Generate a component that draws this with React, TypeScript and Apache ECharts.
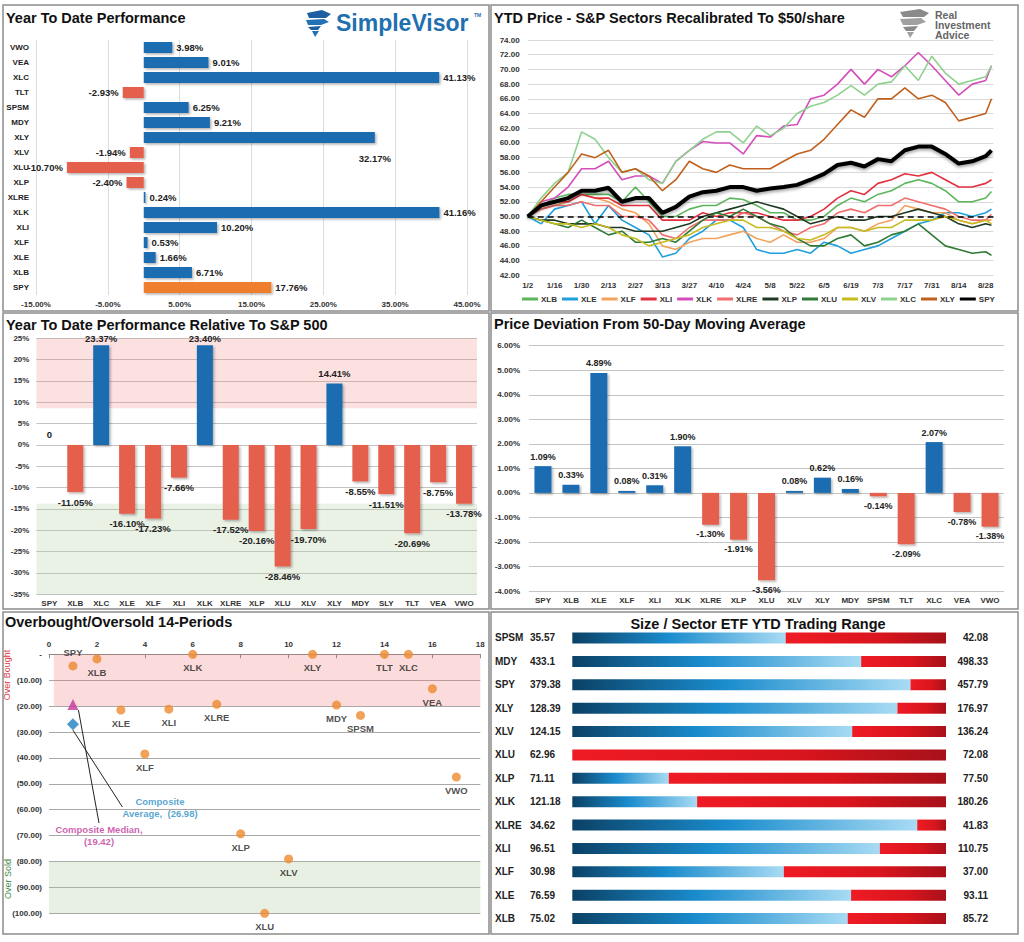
import React, { useEffect, useRef } from 'react';
import * as echarts from 'echarts';

const FONT = 'Arial, "Liberation Sans", Helvetica, sans-serif';

// ---------- Panel 1: Year To Date Performance (listed bottom to top)
const ytdTickers = ['SPY', 'XLB', 'XLE', 'XLF', 'XLI', 'XLK', 'XLRE', 'XLP', 'XLU', 'XLV', 'XLY', 'MDY', 'SPSM', 'TLT', 'XLC', 'VEA', 'VWO'];
const ytdValues = [17.76, 6.71, 1.66, 0.53, 10.2, 41.16, 0.24, -2.4, -10.7, -1.94, 32.17, 9.21, 6.25, -2.93, 41.13, 9.01, 3.98];

// ---------- Panel 2: YTD price recalibrated to $50 (days after 1/2)
const priceDays = [0, 7, 14, 21, 28, 35, 42, 49, 56, 63, 70, 77, 84, 91, 98, 105, 112, 119, 126, 133, 140, 147, 154, 161, 168, 175, 182, 189, 196, 203, 210, 217, 224, 231, 238, 241];
const priceTickLabels = ['1/2', '1/16', '1/30', '2/13', '2/27', '3/13', '3/27', '4/10', '4/24', '5/8', '5/22', '6/5', '6/19', '7/3', '7/17', '7/31', '8/14', '8/28'];
const xlbPrice = [50, 51.5, 52.5, 53, 53, 53, 53, 52, 54, 52, 50, 50, 51, 51.5, 51.5, 52.5, 52.3, 51.5, 50.5, 50.5, 49.5, 49.5, 50, 51.5, 52.5, 52, 53, 53.5, 54.5, 55, 54.5, 53.5, 52, 52, 52.5, 53.4];
const xlePrice = [50, 49, 51, 51.5, 52, 49, 51.5, 49.5, 48.5, 47.5, 44.5, 45, 47, 48, 49.5, 49.5, 48.5, 45.5, 45, 45, 45.5, 45, 46.5, 46, 45, 45.5, 46, 47, 48, 49, 49.5, 50.5, 50.5, 50, 50.5, 51];
const xlfPrice = [50, 51, 51.5, 52, 53, 52.5, 52, 51, 50.5, 49, 46, 45.5, 46.5, 47, 47, 47.5, 48, 47, 46.5, 47.5, 46.5, 46.5, 47, 48.5, 48.5, 48, 49, 49.5, 51.5, 51, 50.5, 50.5, 49.5, 49, 49.5, 49.5];
const xliPrice = [50, 51.5, 52, 52, 53, 52.5, 52.5, 51.5, 51.5, 51.5, 49.5, 49.5, 49.5, 50.5, 50, 50.5, 50.5, 50.5, 50, 49.5, 49.5, 50, 51, 52.5, 53.5, 53, 54.5, 55, 55.8, 55.5, 56, 55, 54, 54, 54.5, 55];
const xlkPrice = [50, 52, 52.5, 54, 56.5, 56.5, 57.5, 55, 55.5, 55.5, 54.5, 57.5, 59, 60.2, 60, 60, 58.5, 61, 60.8, 62.3, 62.5, 66, 66.5, 68, 70, 68, 70, 69, 70.5, 72.3, 70.5, 68.5, 66.5, 68, 68.5, 70.5];
const xlrePrice = [50, 51, 51.5, 51.5, 52, 51.5, 51.5, 50, 50, 49.5, 47.5, 47, 48.5, 49.5, 49.5, 49.5, 50.5, 50, 49, 48, 47.5, 48.5, 49, 50.5, 51, 50.5, 51.5, 51.5, 52.5, 52, 51.5, 51, 50, 49.5, 49.5, 50.3];
const xlpPrice = [50, 49.5, 49.5, 49, 49, 49, 48.5, 48.5, 48, 48, 48, 48.5, 49, 50, 50.5, 51, 51.5, 52, 51.5, 51, 50, 49, 49.5, 50, 49.5, 49.5, 50, 50, 50.5, 51, 50.5, 50, 49, 48.5, 49, 48.8];
const xluPrice = [50, 49.5, 49, 48.5, 49.5, 48.5, 47.5, 48, 46.5, 46.5, 47, 46.5, 48, 49.5, 50.5, 50, 51, 50, 49, 48.5, 47, 46, 46, 47, 47.5, 46, 46.5, 47.5, 48, 49, 47.5, 46, 45.5, 45, 45.2, 44.7];
const xlvPrice = [50, 49.5, 49, 49, 48.5, 49, 48.5, 47.5, 47, 46, 46.5, 47, 47.5, 48.5, 49, 49.5, 49.5, 48.5, 48.5, 48, 47, 46.8, 47.5, 48.5, 48.5, 48, 48.5, 48.5, 49.5, 49.5, 49.5, 50, 49.5, 49, 49.5, 49];
const xlcPrice = [50, 52.5, 54.5, 56, 61.5, 60.5, 58, 56, 56.5, 55, 54.5, 57.5, 59, 60.5, 61.5, 61.5, 60, 62.3, 61, 62, 64, 65, 65.5, 66.5, 67.8, 66.5, 68, 68.3, 70.5, 68.5, 71.8, 69.5, 68, 68.5, 69, 70.5];
const xlyPrice = [50, 52, 54, 56, 58.5, 58, 59, 56, 56.5, 55.5, 53.5, 55, 57.5, 56.5, 56, 57, 56.5, 56.5, 56.5, 57.5, 58.5, 59, 60.5, 62.5, 64.5, 63.5, 66, 66, 67.5, 66, 66.5, 65.5, 63, 63.5, 64, 66];
const spyPrice = [50, 51.5, 52, 52.5, 53.5, 53.5, 53.9, 52, 52.5, 52.5, 50.5, 51.3, 52.7, 53.3, 53.5, 54, 54, 53.5, 53.8, 54, 54.3, 55, 55.8, 57, 57.3, 56.8, 57.8, 57.5, 59, 59.5, 59.5, 58.5, 57.2, 57.5, 58.2, 59];
const priceBase = 50;

// ---------- Panel 3: YTD performance relative to S&P 500
const relTickers = ['SPY', 'XLB', 'XLC', 'XLE', 'XLF', 'XLI', 'XLK', 'XLRE', 'XLP', 'XLU', 'XLV', 'XLY', 'MDY', 'SLY', 'TLT', 'VEA', 'VWO'];
const relValues = [0, -11.05, 23.37, -16.1, -17.23, -7.66, 23.4, -17.52, -20.16, -28.46, -19.7, 14.41, -8.55, -11.51, -20.69, -8.75, -13.78];
const relOverboughtBand = [8.6, 25];
const relOversoldBand = [-35, -13.8];

// ---------- Panel 4: Price deviation from 50-day moving average
const devTickers = ['SPY', 'XLB', 'XLE', 'XLF', 'XLI', 'XLK', 'XLRE', 'XLP', 'XLU', 'XLV', 'XLY', 'MDY', 'SPSM', 'TLT', 'XLC', 'VEA', 'VWO'];
const devValues = [1.09, 0.33, 4.89, 0.08, 0.31, 1.9, -1.3, -1.91, -3.56, 0.08, 0.62, 0.16, -0.14, -2.09, 2.07, -0.78, -1.38];

// ---------- Panel 5: Overbought / Oversold 14 periods
const obTickers = ['SPY', 'XLB', 'XLE', 'XLF', 'XLI', 'XLK', 'XLRE', 'XLP', 'XLU', 'XLV', 'XLY', 'MDY', 'SPSM', 'TLT', 'XLC', 'VEA', 'VWO'];
const obX = [1, 2, 3, 4, 5, 6, 7, 8, 9, 10, 11, 12, 13, 14, 15, 16, 17];
const obValues = [-4.5, -1.8, -21.5, -38.5, -21.2, 0, -19.3, -69.3, -100, -79, 0, -19.6, -23.6, 0, 0, -13.3, -47.4];
const compositeMedian = -19.42;
const compositeAverage = -26.98;
const compositeX = 1;

// ---------- Panel 6: Size / Sector ETF YTD trading range (top to bottom)
const rangeTickers = ['SPSM', 'MDY', 'SPY', 'XLY', 'XLV', 'XLU', 'XLP', 'XLK', 'XLRE', 'XLI', 'XLF', 'XLE', 'XLB'];
const rangeLowLabels = ['35.57', '433.1', '379.38', '128.39', '124.15', '62.96', '71.11', '121.18', '34.62', '96.51', '30.98', '76.59', '75.02'];
const rangeHighLabels = ['42.08', '498.33', '457.79', '176.97', '136.24', '72.08', '77.50', '180.26', '41.83', '110.75', '37.00', '93.11', '85.72'];
const rangePositionPct = [57.1, 77.3, 90.5, 87.0, 74.9, 0, 25.8, 33.4, 92.3, 82.3, 56.6, 74.6, 73.7];

const BLUE = '#1b6cb2';
const RED = '#e4604d';
const ORANGE = '#ef7f2f';

const lab = { fontFamily: FONT, fontWeight: 'bold', fontSize: 8, color: '#333' };
const barShadow = { shadowColor: 'rgba(0,0,0,0.3)', shadowBlur: 2, shadowOffsetX: 1.5, shadowOffsetY: 1.5 };

function buildOption(): any {
  const priceSeries = [
    { name: 'XLB', color: '#5db65d', data: xlbPrice },
    { name: 'XLE', color: '#1f9fdc', data: xlePrice },
    { name: 'XLF', color: '#f3a25e', data: xlfPrice },
    { name: 'XLI', color: '#e3303f', data: xliPrice },
    { name: 'XLK', color: '#d44dbb', data: xlkPrice },
    { name: 'XLRE', color: '#f26d6d', data: xlrePrice },
    { name: 'XLP', color: '#1f3a22', data: xlpPrice },
    { name: 'XLU', color: '#2f7a35', data: xluPrice },
    { name: 'XLV', color: '#c6bb1f', data: xlvPrice },
    { name: 'XLC', color: '#8fd18f', data: xlcPrice },
    { name: 'XLY', color: '#c0601c', data: xlyPrice },
    { name: 'SPY', color: '#000000', data: spyPrice },
  ];

  const titleText = (text: string, x: number, y: number, align = 'left') => ({
    type: 'text', x, y, silent: true, z: 50,
    style: { text, fontFamily: FONT, fontSize: 14.5, fontWeight: 'bold', fill: '#111', textAlign: align, textVerticalAlign: 'middle' },
  });
  const border = (x: number, y: number, w: number, h: number) => ({
    type: 'rect', silent: true, z: 60, shape: { x, y, width: w, height: h },
    style: { fill: 'none', stroke: '#8c8c8c', lineWidth: 1.5 },
  });

  const blueGrad = new echarts.graphic.LinearGradient(0, 0, 1, 0, [
    { offset: 0, color: '#0b4166' },
    { offset: 0.45, color: '#1a8ccd' },
    { offset: 1, color: '#a8dbf4' },
  ]);
  const redGrad = new echarts.graphic.LinearGradient(0, 0, 1, 0, [
    { offset: 0, color: '#ee1b24' },
    { offset: 0.6, color: '#d9151d' },
    { offset: 1, color: '#a8111a' },
  ]);

  return {
    animation: false,
    backgroundColor: '#ffffff',
    textStyle: { fontFamily: FONT },
    grid: [
      { left: 36, top: 40, width: 431, height: 255 },
      { left: 527.7, top: 40, width: 465.7, height: 235.3 },
      { left: 36.4, top: 338.3, width: 440.6, height: 256 },
      { left: 529, top: 345.7, width: 475, height: 245.3 },
      { left: 49, top: 654.3, width: 431.3, height: 259 },
      { left: 572.3, top: 626.3, width: 373.7, height: 304 },
    ],
    legend: {
      data: priceSeries.map((s) => s.name),
      left: 522, top: 295, padding: 0, width: 498,
      itemWidth: 16, itemHeight: 3, itemGap: 5, icon: 'rect',
      textStyle: { fontFamily: FONT, fontSize: 8, fontWeight: 'bold', color: '#333', padding: [0, 0, 0, -2] },
    },
    xAxis: [
      {
        gridIndex: 0, type: 'value', min: -15, max: 45, interval: 10,
        axisLabel: { ...lab, margin: 5, formatter: (v: number) => v.toFixed(2) + '%' },
        splitLine: { show: true, lineStyle: { color: '#dcdcdc' } },
        axisLine: { show: false }, axisTick: { show: false },
      },
      {
        gridIndex: 1, type: 'value', min: 0, max: 242, interval: 14,
        axisLabel: { ...lab, margin: 6, showMaxLabel: false, formatter: (v: number) => (v % 14 === 0 ? priceTickLabels[v / 14] ?? '' : '') },
        splitLine: { show: false }, axisLine: { show: false }, axisTick: { show: false },
      },
      {
        gridIndex: 2, type: 'category', data: relTickers,
        axisLine: { show: false, onZero: false }, axisTick: { show: false },
        axisLabel: { ...lab, margin: 5, interval: 0 },
      },
      {
        gridIndex: 3, type: 'category', data: devTickers,
        axisLine: { show: false, onZero: false }, axisTick: { show: false },
        axisLabel: { ...lab, margin: 5, interval: 0 },
      },
      {
        gridIndex: 4, type: 'value', position: 'top', min: 0, max: 18, interval: 2,
        axisLine: { show: true, onZero: false, lineStyle: { color: '#8a8a8a' } },
        axisTick: { show: true, inside: true, length: 4, lineStyle: { color: '#8a8a8a' } },
        axisLabel: { ...lab, margin: 6 },
        splitLine: { show: false },
      },
      { gridIndex: 5, type: 'value', min: 0, max: 100, show: false },
    ],
    yAxis: [
      {
        gridIndex: 0, type: 'category', data: ytdTickers,
        axisLine: { show: false }, axisTick: { show: false },
        axisLabel: { ...lab, margin: 7, interval: 0, color: '#222' },
      },
      {
        gridIndex: 1, type: 'value', min: 42, max: 74, interval: 2,
        axisLabel: { ...lab, margin: 8, formatter: (v: number) => v.toFixed(2) },
        splitLine: { lineStyle: { color: '#d9d9d9' } }, axisLine: { show: false }, axisTick: { show: false },
      },
      {
        gridIndex: 2, type: 'value', min: -35, max: 25, interval: 5,
        axisLabel: { ...lab, margin: 7, formatter: (v: number) => v + '%' },
        splitLine: { lineStyle: { color: '#c4c4c4' } }, axisLine: { show: false }, axisTick: { show: false },
      },
      {
        gridIndex: 3, type: 'value', min: -4, max: 6, interval: 1,
        axisLabel: { ...lab, margin: 9, formatter: (v: number) => v.toFixed(2) + '%' },
        splitLine: { lineStyle: { color: '#c4c4c4' } }, axisLine: { show: false }, axisTick: { show: false },
      },
      {
        gridIndex: 4, type: 'value', min: -100, max: 0, interval: 10,
        axisLabel: { ...lab, margin: 7, formatter: (v: number) => (v === 0 ? '-' : '(' + (-v).toFixed(2) + ')') },
        splitLine: { lineStyle: { color: '#a8a8a8' } }, axisLine: { show: false }, axisTick: { show: false },
      },
      {
        gridIndex: 5, type: 'category', data: rangeTickers, inverse: true,
        axisLine: { show: false }, axisTick: { show: false },
        axisLabel: {
          interval: 0, align: 'left', margin: 77.3,
          formatter: (v: string, i: number) => `{t|${v}}{v|${rangeLowLabels[i]}}`,
          rich: {
            t: { width: 35, fontFamily: FONT, fontWeight: 'bold', fontSize: 10, color: '#222' },
            v: { fontFamily: FONT, fontWeight: 'bold', fontSize: 10, color: '#222' },
          },
        },
      },
      {
        gridIndex: 5, type: 'category', position: 'right', data: rangeTickers, inverse: true,
        axisLine: { show: false }, axisTick: { show: false },
        axisLabel: {
          interval: 0, align: 'right', margin: 42,
          fontFamily: FONT, fontWeight: 'bold', fontSize: 10, color: '#222',
          formatter: (_v: string, i: number) => rangeHighLabels[i],
        },
      },
    ],
    series: [
      // Panel 1
      {
        type: 'bar', xAxisIndex: 0, yAxisIndex: 0, barWidth: 11, z: 3,
        itemStyle: barShadow,
        label: {
          show: true, distance: 4, fontFamily: FONT, fontWeight: 'bold', fontSize: 9.5, color: '#222',
          formatter: (p: any) => Number(p.value).toFixed(2) + '%',
        },
        data: ytdValues.map((v, i) => ({
          value: v,
          itemStyle: { color: ytdTickers[i] === 'SPY' ? ORANGE : v >= 0 ? BLUE : RED },
          label: ytdTickers[i] === 'XLY'
            ? { position: ['100%', '240%'], align: 'center', verticalAlign: 'middle' }
            : { position: v >= 0 ? 'right' : 'left' },
        })),
      },
      // Panel 2 lines
      ...priceSeries.map((s) => {
        const isSpy = s.name === 'SPY';
        return {
          name: s.name, type: 'line', xAxisIndex: 1, yAxisIndex: 1,
          symbol: 'none', showSymbol: false, z: isSpy ? 4 : 2,
          itemStyle: { color: s.color },
          lineStyle: isSpy
            ? { color: s.color, width: 4, shadowColor: 'rgba(0,0,0,0.35)', shadowBlur: 3, shadowOffsetY: 2 }
            : { color: s.color, width: 1.6 },
          data: priceDays.map((d, i) => [d, s.data[i]]),
          markLine: isSpy
            ? {
                silent: true, symbol: ['none', 'none'], label: { show: false },
                lineStyle: { color: '#000', width: 1.5, type: [6, 4] },
                data: [{ yAxis: priceBase }],
              }
            : undefined,
        };
      }),
      // Panel 3 bands
      {
        type: 'line', xAxisIndex: 2, yAxisIndex: 2, z: 1, silent: true, symbol: 'none',
        lineStyle: { opacity: 0 },
        data: relValues,
        markArea: {
          silent: true,
          data: [
            [{ yAxis: relOverboughtBand[0], itemStyle: { color: 'rgba(240,120,120,0.22)' } }, { yAxis: relOverboughtBand[1] }],
            [{ yAxis: relOversoldBand[1], itemStyle: { color: 'rgba(170,200,150,0.25)' } }, { yAxis: relOversoldBand[0] }],
          ],
        },
      },
      // Panel 3 bars
      {
        type: 'bar', xAxisIndex: 2, yAxisIndex: 2, barWidth: 16, z: 3,
        itemStyle: barShadow,
        label: {
          show: true, distance: 5, fontFamily: FONT, fontWeight: 'bold', fontSize: 9.5, color: '#222',
          formatter: (p: any) => (p.value === 0 ? '0' : Number(p.value).toFixed(2) + '%'),
        },
        data: relValues.map((v) => ({
          value: v,
          itemStyle: { color: v > 0 ? BLUE : RED },
          label: { position: v >= 0 ? 'top' : 'bottom', distance: v > 20 ? 2 : 5 },
        })),
      },
      // Panel 4 bars
      {
        type: 'bar', xAxisIndex: 3, yAxisIndex: 3, barWidth: 17, z: 3,
        itemStyle: barShadow,
        label: {
          show: true, distance: 5, fontFamily: FONT, fontWeight: 'bold', fontSize: 9, color: '#222',
          formatter: (p: any) => Number(p.value).toFixed(2) + '%',
        },
        data: devValues.map((v) => ({
          value: v,
          itemStyle: { color: v >= 0 ? BLUE : RED },
          label: { position: v >= 0 ? 'top' : 'bottom' },
        })),
      },
      // Panel 5 bands
      {
        type: 'line', xAxisIndex: 4, yAxisIndex: 4, z: 1, silent: true, symbol: 'none',
        lineStyle: { opacity: 0 },
        data: obX.map((x, i) => [x, obValues[i]]),
        markArea: {
          silent: true,
          data: [
            [{ xAxis: 0.2, yAxis: 0, itemStyle: { color: 'rgba(240,110,110,0.25)' } }, { xAxis: 18, yAxis: -20 }],
            [{ xAxis: 0, yAxis: -80, itemStyle: { color: 'rgba(170,200,150,0.28)' } }, { xAxis: 18, yAxis: -100 }],
          ],
        },
      },
      // Panel 5 points
      {
        type: 'scatter', xAxisIndex: 4, yAxisIndex: 4, z: 4, symbolSize: 9,
        itemStyle: { color: '#ee8a2e' },
        label: {
          show: true, position: 'bottom', distance: 4, fontFamily: FONT, fontWeight: 'bold', fontSize: 9.5, color: '#222',
          formatter: (p: any) => p.name,
        },
        data: obTickers.map((t, i) => ({
          name: t, value: [obX[i], obValues[i]],
          label: t === 'SPY' ? { position: 'top' } : undefined,
        })),
      },
      {
        type: 'scatter', xAxisIndex: 4, yAxisIndex: 4, z: 5, symbol: 'triangle', symbolSize: 11,
        itemStyle: { color: '#c2389a' },
        data: [[compositeX, compositeMedian]],
        label: {
          show: true, fontFamily: FONT, fontWeight: 'bold', fontSize: 9.5, color: '#c2389a', align: 'center', lineHeight: 12,
          formatter: () => `Composite Median,\n(${(-compositeMedian).toFixed(2)})`,
        },
        labelLayout: { x: 99, y: 823 },
        labelLine: { show: true, lineStyle: { color: '#222', width: 1 } },
      },
      {
        type: 'scatter', xAxisIndex: 4, yAxisIndex: 4, z: 5, symbol: 'diamond', symbolSize: 12,
        itemStyle: { color: '#1f7fc0' },
        data: [[compositeX, compositeAverage]],
        label: {
          show: true, fontFamily: FONT, fontWeight: 'bold', fontSize: 9.5, color: '#2a8fc5', align: 'center', lineHeight: 12,
          formatter: () => `Composite\nAverage,  (${(-compositeAverage).toFixed(2)})`,
        },
        labelLayout: { x: 160, y: 795 },
        labelLine: { show: true, lineStyle: { color: '#222', width: 1 } },
      },
      // Panel 6 ranges
      {
        type: 'bar', xAxisIndex: 5, yAxisIndex: 5, stack: 'range', barWidth: 11, z: 3,
        itemStyle: { color: blueGrad },
        data: rangePositionPct,
      },
      {
        type: 'bar', xAxisIndex: 5, yAxisIndex: 5, stack: 'range', barWidth: 11, z: 3,
        itemStyle: { color: redGrad },
        data: rangePositionPct.map((p) => 100 - p),
      },
    ],
    graphic: [
      border(3, 5, 486, 306),
      border(491, 5, 527, 306),
      border(3, 313, 486, 296),
      border(491, 313, 527, 296),
      border(3, 612, 486, 322),
      border(491, 612, 527, 322),
      titleText('Year To Date Performance', 6, 17.5),
      titleText('YTD Price - S&P Sectors Recalibrated To $50/share', 494, 17.5),
      titleText('Year To Date Performance Relative To S&P 500', 6, 324.5),
      titleText('Price Deviation From 50-Day Moving Average', 494, 324),
      titleText('Overbought/Oversold 14-Periods', 5, 622),
      titleText('Size / Sector ETF YTD Trading Range', 758, 624, 'center'),
      // SimpleVisor logo
      { type: 'polygon', silent: true, shape: { points: [[307, 13], [322, 10], [331, 14], [326, 18], [309, 18]] }, style: { fill: '#1d5fa0' } },
      { type: 'polygon', silent: true, shape: { points: [[306, 20], [324, 19], [329, 22], [321, 25], [308, 25]] }, style: { fill: '#2470b4' } },
      { type: 'polygon', silent: true, shape: { points: [[308, 27], [321, 26], [318, 30], [311, 30]] }, style: { fill: '#1d5fa0' } },
      { type: 'polygon', silent: true, shape: { points: [[312, 31], [319, 31], [315, 37]] }, style: { fill: '#2470b4' } },
      { type: 'text', x: 336, y: 23, silent: true, style: { text: 'SimpleVisor', fontFamily: FONT, fontSize: 23, fontWeight: 'bold', fill: '#1f70b0', textVerticalAlign: 'middle' } },
      { type: 'text', x: 474, y: 15, silent: true, style: { text: 'TM', fontFamily: FONT, fontSize: 5, fontWeight: 'bold', fill: '#1f70b0', textVerticalAlign: 'middle' } },
      // Real Investment Advice logo
      { type: 'polygon', silent: true, shape: { points: [[900, 12], [920, 9], [929, 13], [924, 17], [903, 17]] }, style: { fill: '#8a8a8a' } },
      { type: 'polygon', silent: true, shape: { points: [[900, 19], [921, 18], [926, 22], [917, 25], [903, 25]] }, style: { fill: '#a0a0a0' } },
      { type: 'polygon', silent: true, shape: { points: [[903, 27], [918, 26], [914, 31], [906, 31]] }, style: { fill: '#8a8a8a' } },
      { type: 'polygon', silent: true, shape: { points: [[907, 32], [914, 32], [910, 38]] }, style: { fill: '#a0a0a0' } },
      { type: 'text', x: 935, y: 15, silent: true, style: { text: 'Real', fontFamily: FONT, fontSize: 10.5, fontWeight: 'bold', fill: '#666', textVerticalAlign: 'middle' } },
      { type: 'text', x: 935, y: 25, silent: true, style: { text: 'Investment', fontFamily: FONT, fontSize: 10.5, fontWeight: 'bold', fill: '#666', textVerticalAlign: 'middle' } },
      { type: 'text', x: 935, y: 35, silent: true, style: { text: 'Advice', fontFamily: FONT, fontSize: 10.5, fontWeight: 'bold', fill: '#666', textVerticalAlign: 'middle' } },
      // Over Bought / Over Sold side labels
      { type: 'text', x: 7, y: 675, rotation: Math.PI / 2, silent: true, style: { text: 'Over Bought', fontFamily: FONT, fontSize: 9, fill: '#d9363e', textAlign: 'center', textVerticalAlign: 'middle' } },
      { type: 'text', x: 8, y: 879, rotation: Math.PI / 2, silent: true, style: { text: 'Over Sold', fontFamily: FONT, fontSize: 9, fill: '#3d8d46', textAlign: 'center', textVerticalAlign: 'middle' } },
    ],
  };
}

export default function App() {
  const ref = useRef<HTMLDivElement>(null);
  useEffect(() => {
    if (!ref.current) return;
    const chart = echarts.init(ref.current, null, { renderer: 'svg' });
    chart.setOption(buildOption());
    return () => chart.dispose();
  }, []);
  return (
    <div
      ref={ref}
      style={{ position: 'absolute', left: 0, top: 0, width: 1024, height: 942, background: '#fff' }}
    />
  );
}
